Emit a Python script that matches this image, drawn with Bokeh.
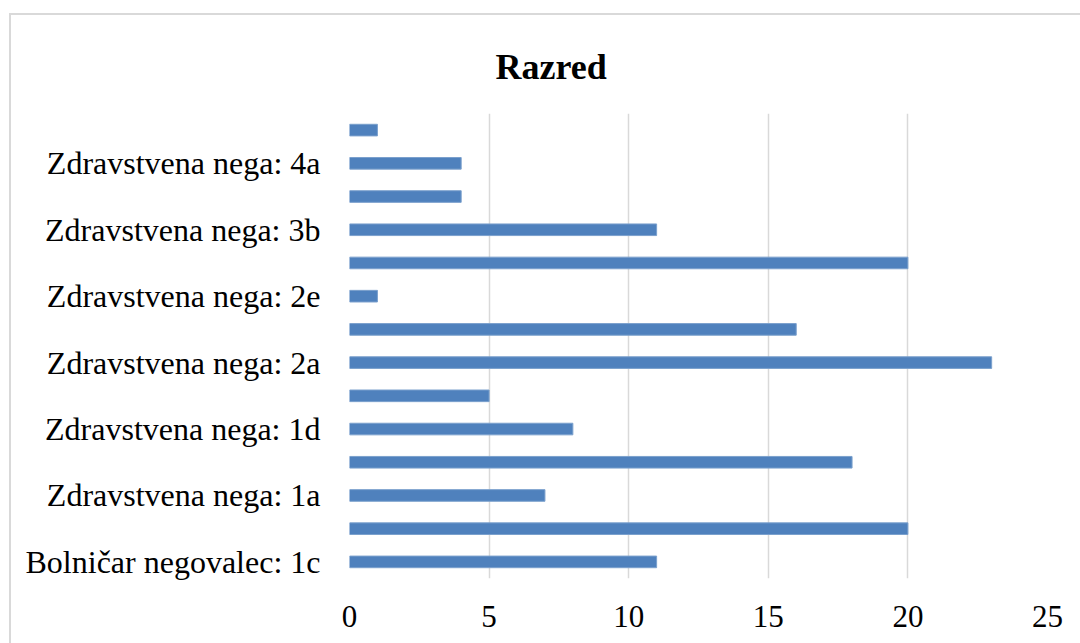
from bokeh.plotting import figure
from bokeh.models import FactorRange, Range1d, FixedTicker, CustomJSTickFormatter
from bokeh.embed import file_html
from bokeh.resources import INLINE

categories = [
    "Bolničar negovalec: 1c",
    "Bolničar negovalec: 2c",
    "Zdravstvena nega: 1a",
    "Zdravstvena nega: 1b",
    "Zdravstvena nega: 1d",
    "Zdravstvena nega: 1e",
    "Zdravstvena nega: 2a",
    "Zdravstvena nega: 2b",
    "Zdravstvena nega: 2e",
    "Zdravstvena nega: 3a",
    "Zdravstvena nega: 3b",
    "Zdravstvena nega: 3c",
    "Zdravstvena nega: 4a",
    "Zdravstvena nega: 4b",
]
values = [11, 20, 7, 18, 8, 5, 23, 16, 1, 20, 11, 4, 4, 1]
shown_labels = [c for i, c in enumerate(categories) if i % 2 == 0]
x_ticks = [0, 5, 10, 15, 20, 25]
title_text = "Razred"

FONT = "Liberation Serif"

p = figure(
    title=title_text,
    y_range=FactorRange(factors=categories),
    x_range=Range1d(0, 25),
    frame_width=698, frame_height=465,
    min_border_left=338, min_border_right=33,
    min_border_top=98, min_border_bottom=65,
    output_backend="svg", toolbar_location=None,
    background_fill_color="white", border_fill_color="white",
)
p.margin = (13, 0, 0, 9)
p.styles = {"border-top": "2px solid #D9D9D9", "border-left": "2px solid #D9D9D9"}
p.outline_line_color = None

p.title.text_font = FONT
p.title.text_font_size = "36px"
p.title.text_font_style = "bold"
p.title.text_color = "#000000"
p.title.align = "left"
p.title.offset = 146
p.title.standoff = 54

p.hbar(y=categories, right=values, height=0.35, left=0,
       fill_color="#4F81BD", line_color="#7BA0CD", line_width=1)

# axes
p.xaxis.ticker = FixedTicker(ticks=x_ticks)
p.xaxis.axis_line_color = None
p.xaxis.major_tick_line_color = None
p.xaxis.minor_tick_line_color = None
p.xaxis.major_label_text_font = FONT
p.xaxis.major_label_text_font_size = "31px"
p.xaxis.major_label_text_color = "#000000"
p.xaxis.major_label_standoff = 21

p.yaxis.axis_line_color = None
p.yaxis.major_tick_line_color = None
p.yaxis.minor_tick_line_color = None
p.yaxis.major_label_text_font = FONT
p.yaxis.major_label_text_font_size = "32px"
p.yaxis.major_label_text_color = "#000000"
p.yaxis.major_label_standoff = 23
p.yaxis.formatter = CustomJSTickFormatter(
    args=dict(shown=shown_labels),
    code="return shown.includes(tick) ? tick : '';")

p.xgrid.grid_line_color = "#D9D9D9"
p.xgrid.grid_line_width = 1.5
p.ygrid.grid_line_color = None

open("out.html", "w").write(file_html(p, INLINE))
